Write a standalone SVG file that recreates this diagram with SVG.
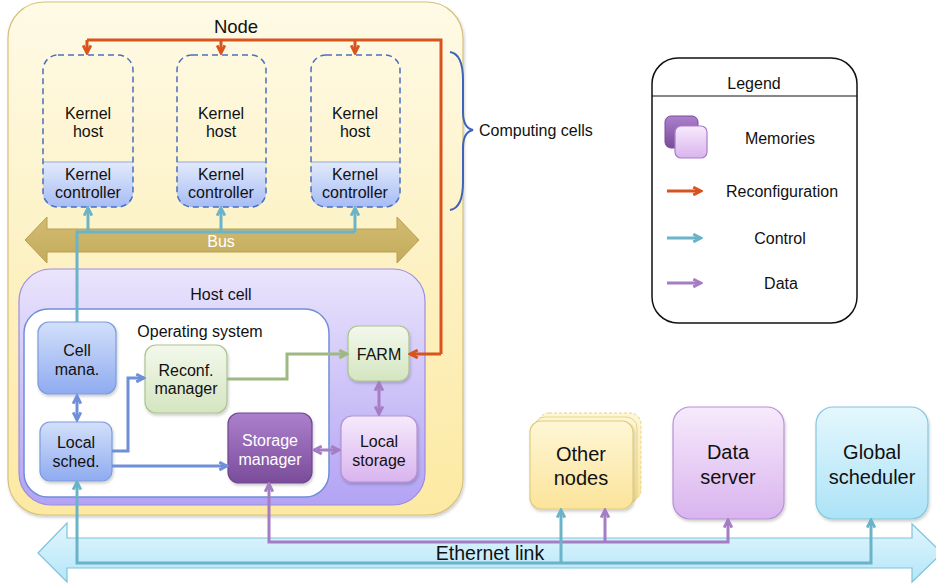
<svg xmlns="http://www.w3.org/2000/svg" width="936" height="585" viewBox="0 0 936 585">
<style>
text{font-family:"Liberation Sans",Arial,sans-serif;fill:#111;text-anchor:middle;dominant-baseline:central}
.k{font-size:16px}
.lg{font-size:16px}
.big{font-size:20px}
.ln{fill:none;stroke-width:3;stroke-linejoin:miter}
.red{stroke:#D9531E}
.cy{stroke:#6BB3C9}
.pu{stroke:#A47DC4}
.bl{stroke:#6F8FD8}
.gr{stroke:#9DB882}
</style>
<defs>
<linearGradient id="gNode" x1="0" y1="0" x2="0" y2="1"><stop offset="0" stop-color="#FEFAE6"/><stop offset="1" stop-color="#FCE9A2"/></linearGradient>
<linearGradient id="gHost" x1="0" y1="0" x2="0" y2="1"><stop offset="0" stop-color="#EAE4FC"/><stop offset="1" stop-color="#B3A3F4"/></linearGradient>
<linearGradient id="gBlue" x1="0" y1="0" x2="0" y2="1"><stop offset="0" stop-color="#D3E0FB"/><stop offset="1" stop-color="#8FABF0"/></linearGradient>
<linearGradient id="gKc" x1="0" y1="0" x2="0" y2="1"><stop offset="0" stop-color="#E3EAFC"/><stop offset="1" stop-color="#A6BCF4"/></linearGradient>
<linearGradient id="gGreen" x1="0" y1="0" x2="0" y2="1"><stop offset="0" stop-color="#F3F8EC"/><stop offset="1" stop-color="#D4E5C0"/></linearGradient>
<linearGradient id="gSm" x1="0" y1="0" x2="0" y2="1"><stop offset="0" stop-color="#AC80CC"/><stop offset="1" stop-color="#7A4C9A"/></linearGradient>
<linearGradient id="gLs" x1="0" y1="0" x2="0" y2="1"><stop offset="0" stop-color="#F7EAFC"/><stop offset="1" stop-color="#D9B4EE"/></linearGradient>
<linearGradient id="gYel" x1="0" y1="0" x2="0" y2="1"><stop offset="0" stop-color="#FEF6D6"/><stop offset="1" stop-color="#FBE49A"/></linearGradient>
<linearGradient id="gCy" x1="0" y1="0" x2="0" y2="1"><stop offset="0" stop-color="#E4F7FD"/><stop offset="1" stop-color="#ADE3F7"/></linearGradient>
<linearGradient id="gEth" x1="0" y1="0" x2="0" y2="1"><stop offset="0" stop-color="#E2F6FD"/><stop offset="1" stop-color="#B4E6F8"/></linearGradient>
<linearGradient id="gBus" x1="0" y1="0" x2="0" y2="1"><stop offset="0" stop-color="#D2BC72"/><stop offset="1" stop-color="#C4AB5C"/></linearGradient>
<marker id="aR" viewBox="0 0 10 10" refX="8.5" refY="5" markerWidth="11" markerHeight="11" markerUnits="userSpaceOnUse" orient="auto-start-reverse"><path d="M1.5,1.5 L8.5,5 L1.5,8.5" fill="none" stroke="#D9531E" stroke-width="2.6"/></marker>
<marker id="aC" viewBox="0 0 10 10" refX="8.5" refY="5" markerWidth="11" markerHeight="11" markerUnits="userSpaceOnUse" orient="auto-start-reverse"><path d="M1.5,1.5 L8.5,5 L1.5,8.5" fill="none" stroke="#6BB3C9" stroke-width="2.6"/></marker>
<marker id="aP" viewBox="0 0 10 10" refX="8.5" refY="5" markerWidth="11" markerHeight="11" markerUnits="userSpaceOnUse" orient="auto-start-reverse"><path d="M1.5,1.5 L8.5,5 L1.5,8.5" fill="none" stroke="#A47DC4" stroke-width="2.6"/></marker>
<marker id="aB" viewBox="0 0 10 10" refX="8.5" refY="5" markerWidth="11" markerHeight="11" markerUnits="userSpaceOnUse" orient="auto-start-reverse"><path d="M1.5,1.5 L8.5,5 L1.5,8.5" fill="none" stroke="#6F8FD8" stroke-width="2.6"/></marker>
<marker id="aG" viewBox="0 0 10 10" refX="8.5" refY="5" markerWidth="11" markerHeight="11" markerUnits="userSpaceOnUse" orient="auto-start-reverse"><path d="M1.5,1.5 L8.5,5 L1.5,8.5" fill="none" stroke="#9DB882" stroke-width="2.6"/></marker>
<filter id="sh" x="-10%" y="-10%" width="130%" height="130%"><feDropShadow dx="1" dy="2" stdDeviation="1.5" flood-color="#000" flood-opacity="0.2"/></filter>
</defs>

<g id="node">
<rect x="8" y="2" width="455" height="513" rx="36" fill="url(#gNode)" stroke="#D6C07E" stroke-width="1.2" filter="url(#sh)"/>
<text x="236" y="26" style="font-size:18.5px">Node</text>
</g>

<g id="kernel1">
<path d="M43,162 H133 V192 Q133,207 118,207 H58 Q43,207 43,192 Z" fill="url(#gKc)"/>
<line x1="43" y1="162" x2="133" y2="162" stroke="#8EA8E0" stroke-width="1"/>
<rect x="43" y="55" width="90" height="152" rx="15" fill="none" stroke="#4A6FC0" stroke-width="1.5" stroke-dasharray="6,4"/>
<text class="k" x="88" y="113">Kernel</text><text class="k" x="88" y="131">host</text>
<text class="k" x="88" y="174">Kernel</text><text class="k" x="88" y="192">controller</text>
</g>
<g id="kernel2">
<path d="M177,162 H266 V192 Q266,207 251,207 H192 Q177,207 177,192 Z" fill="url(#gKc)"/>
<line x1="177" y1="162" x2="266" y2="162" stroke="#8EA8E0" stroke-width="1"/>
<rect x="177" y="55" width="89" height="152" rx="15" fill="none" stroke="#4A6FC0" stroke-width="1.5" stroke-dasharray="6,4"/>
<text class="k" x="221" y="113">Kernel</text><text class="k" x="221" y="131">host</text>
<text class="k" x="221" y="174">Kernel</text><text class="k" x="221" y="192">controller</text>
</g>
<g id="kernel3">
<path d="M311,162 H400 V192 Q400,207 385,207 H326 Q311,207 311,192 Z" fill="url(#gKc)"/>
<line x1="311" y1="162" x2="400" y2="162" stroke="#8EA8E0" stroke-width="1"/>
<rect x="311" y="55" width="89" height="152" rx="15" fill="none" stroke="#4A6FC0" stroke-width="1.5" stroke-dasharray="6,4"/>
<text class="k" x="355" y="113">Kernel</text><text class="k" x="355" y="131">host</text>
<text class="k" x="355" y="174">Kernel</text><text class="k" x="355" y="192">controller</text>
</g>

<g id="bus">
<polygon points="25,240 47,217 47,229 397,229 397,217 419,240 397,263 397,252 47,252 47,263" fill="url(#gBus)" stroke="#B89E50" stroke-width="1"/>
<text x="221" y="241" style="font-size:16px;fill:#fff">Bus</text>
</g>

<g id="computing-cells">
<path d="M450,52 Q463,54 463,80 L463,112 Q463,128 473,130 Q463,132 463,148 L463,182 Q463,208 450,210" fill="none" stroke="#3F63B8" stroke-width="2"/>
<text x="479" y="130" style="font-size:16px;text-anchor:start">Computing cells</text>
</g>

<g id="host-cell">
<rect x="19" y="269" width="406" height="236" rx="32" fill="url(#gHost)" stroke="#9C8EE0" stroke-width="1.2"/>
<text class="k" x="221" y="294">Host cell</text>
</g>
<g id="os">
<rect x="24" y="309" width="305" height="188" rx="24" fill="#fff" stroke="#6F8FD8" stroke-width="1.5"/>
<text class="k" x="200" y="331">Operating system</text>
</g>
<g id="cell-mana">
<rect x="38" y="322" width="78" height="72" rx="11" fill="url(#gBlue)" stroke="#7C9BDC" stroke-width="1.2" filter="url(#sh)"/>
<text class="k" x="77" y="350">Cell</text><text class="k" x="77" y="369">mana.</text>
</g>
<g id="local-sched">
<rect x="40" y="422" width="72" height="59" rx="10" fill="url(#gBlue)" stroke="#7C9BDC" stroke-width="1.2" filter="url(#sh)"/>
<text class="k" x="76" y="442">Local</text><text class="k" x="76" y="461">sched.</text>
</g>
<g id="reconf-manager">
<rect x="145" y="345" width="82" height="68" rx="11" fill="url(#gGreen)" stroke="#ABC490" stroke-width="1.2" filter="url(#sh)"/>
<text class="k" x="186" y="370">Reconf.</text><text class="k" x="186" y="388">manager</text>
</g>
<g id="storage-manager">
<rect x="228" y="413" width="84" height="70" rx="11" fill="url(#gSm)" stroke="#6E4690" stroke-width="1.2" filter="url(#sh)"/>
<text class="k" x="270" y="440" style="fill:#fff">Storage</text><text class="k" x="270" y="459" style="fill:#fff">manager</text>
</g>
<g id="farm">
<rect x="348" y="326" width="61" height="55" rx="10" fill="url(#gGreen)" stroke="#ABC490" stroke-width="1.2" filter="url(#sh)"/>
<text class="k" x="379" y="354">FARM</text>
</g>
<g id="local-storage">
<rect x="341" y="416" width="76" height="66" rx="11" fill="url(#gLs)" stroke="#B692D4" stroke-width="1.2" filter="url(#sh)"/>
<text class="k" x="379" y="441">Local</text><text class="k" x="379" y="460">storage</text>
</g>

<g id="ethernet">
<polygon points="38,553 67,523 67,538 912,538 912,524 942,553 912,582 912,568 67,568 67,582" fill="url(#gEth)" stroke="#7EC4DA" stroke-width="1.2"/>
<text x="490" y="553" style="font-size:19.5px">Ethernet link</text>
</g>

<g id="other-nodes">
<rect x="538" y="413" width="103" height="88" rx="11" fill="url(#gYel)" stroke="#E6D488" stroke-width="1" stroke-dasharray="3,2"/>
<rect x="534" y="417" width="103" height="88" rx="11" fill="url(#gYel)" stroke="#E6D488" stroke-width="1"/>
<rect x="530" y="421" width="103" height="88" rx="11" fill="url(#gYel)" stroke="#E0CC7E" stroke-width="1.2" filter="url(#sh)"/>
<text class="big" x="581" y="454">Other</text><text class="big" x="581" y="478">nodes</text>
</g>
<g id="data-server">
<rect x="673" y="407" width="111" height="112" rx="17" fill="url(#gLs)" stroke="#B692D4" stroke-width="1.2" filter="url(#sh)"/>
<text class="big" x="728" y="452">Data</text><text class="big" x="728" y="477">server</text>
</g>
<g id="global-scheduler">
<rect x="816" y="407" width="112" height="112" rx="17" fill="url(#gCy)" stroke="#86C6DC" stroke-width="1.2" filter="url(#sh)"/>
<text class="big" x="872" y="452">Global</text><text class="big" x="872" y="477">scheduler</text>
</g>

<g id="legend">
<rect x="652" y="58" width="205" height="265" rx="26" fill="#fff" stroke="#111" stroke-width="1.5"/>
<line x1="652" y1="96" x2="857" y2="96" stroke="#111" stroke-width="1.2"/>
<text class="lg" x="754" y="83">Legend</text>
<rect x="665" y="116" width="33" height="32" rx="6" fill="url(#gSm)" stroke="#7A4C9A" stroke-width="1"/>
<rect x="675" y="126" width="32" height="32" rx="6" fill="url(#gLs)" stroke="#A87DC8" stroke-width="1.2"/>
<text class="lg" x="780" y="138">Memories</text>
<line class="ln red" x1="667" y1="191" x2="701" y2="191" marker-end="url(#aR)"/>
<text class="lg" x="782" y="191">Reconfiguration</text>
<line class="ln cy" x1="667" y1="238" x2="701" y2="238" marker-end="url(#aC)"/>
<text class="lg" x="780" y="238">Control</text>
<line class="ln pu" x1="667" y1="283" x2="701" y2="283" marker-end="url(#aP)"/>
<text class="lg" x="781" y="283">Data</text>
</g>

<g id="connectors">
<path class="ln red" d="M441,354 V40 H87"/>
<line class="ln red" x1="87" y1="40" x2="87" y2="53" marker-end="url(#aR)"/>
<line class="ln red" x1="221" y1="40" x2="221" y2="53" marker-end="url(#aR)"/>
<line class="ln red" x1="355" y1="40" x2="355" y2="53" marker-end="url(#aR)"/>
<line class="ln red" x1="441" y1="354" x2="410" y2="354" marker-end="url(#aR)"/>

<path class="ln cy" d="M77,322 V232 H355"/>
<line class="ln cy" x1="88" y1="232" x2="88" y2="208" marker-end="url(#aC)"/>
<line class="ln cy" x1="221" y1="232" x2="221" y2="208" marker-end="url(#aC)"/>
<line class="ln cy" x1="355" y1="232" x2="355" y2="208" marker-end="url(#aC)"/>

<line class="ln bl" x1="77" y1="396" x2="77" y2="420" marker-start="url(#aB)" marker-end="url(#aB)"/>
<path class="ln bl" d="M112,451 H128 V378 H144" marker-end="url(#aB)"/>
<line class="ln bl" x1="112" y1="466" x2="227" y2="466" marker-end="url(#aB)"/>
<path class="ln gr" d="M227,379 H287 V354 H347" marker-end="url(#aG)"/>
<line class="ln pu" x1="379" y1="383" x2="379" y2="414" marker-start="url(#aP)" marker-end="url(#aP)"/>
<line class="ln pu" x1="314" y1="450" x2="339" y2="450" marker-start="url(#aP)" marker-end="url(#aP)"/>

<path class="ln pu" d="M269,484 V542 H728 V520" marker-start="url(#aP)" marker-end="url(#aP)"/>
<line class="ln pu" x1="605" y1="542" x2="605" y2="510" marker-end="url(#aP)"/>
<path class="ln cy" d="M77,482 V563 H871 V520" marker-start="url(#aC)" marker-end="url(#aC)"/>
<line class="ln cy" x1="561" y1="563" x2="561" y2="510" marker-end="url(#aC)"/>
</g>
</svg>
